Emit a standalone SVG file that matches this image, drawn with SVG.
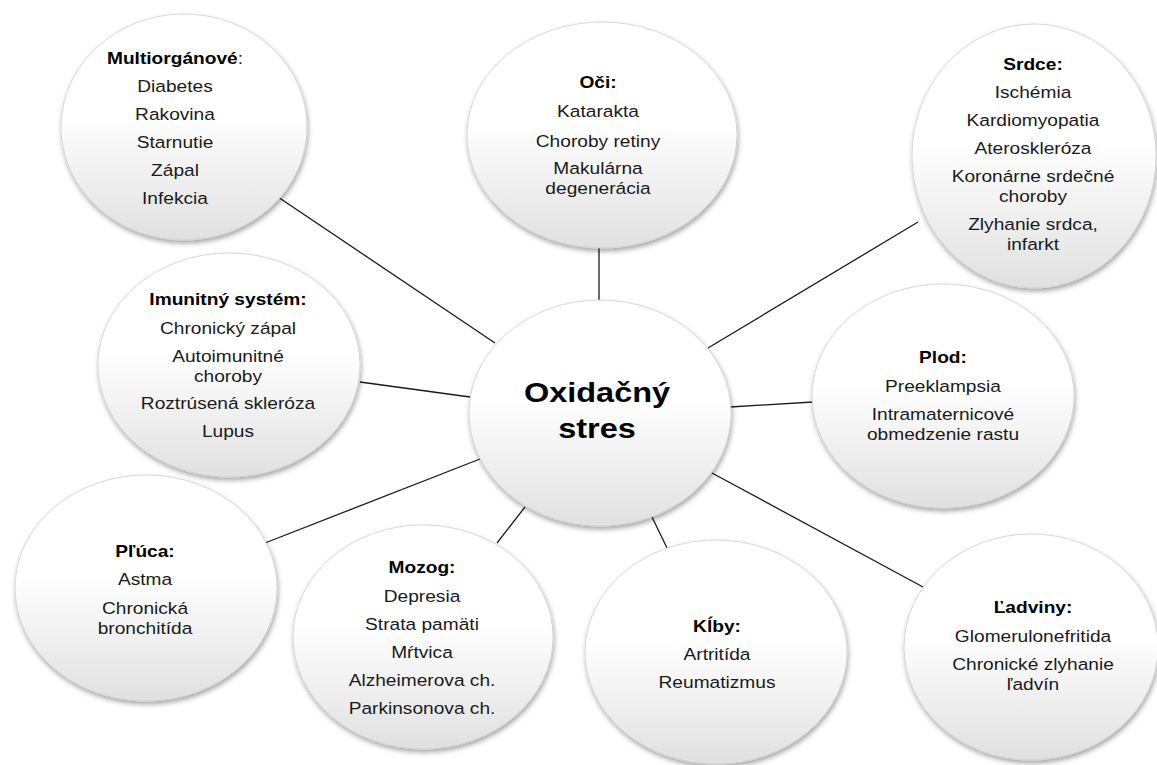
<svg xmlns="http://www.w3.org/2000/svg" width="1157" height="765" viewBox="0 0 1157 765">
<defs>
<linearGradient id="g" x1="0" y1="0" x2="0" y2="1">
<stop offset="0" stop-color="#ffffff"/>
<stop offset="0.45" stop-color="#ffffff"/>
<stop offset="1" stop-color="#e0e0e0"/>
</linearGradient>
<filter id="sh" x="-10%" y="-10%" width="120%" height="125%">
<feDropShadow dx="1" dy="3" stdDeviation="2.5" flood-color="#000" flood-opacity="0.35"/>
</filter>
</defs>
<style>
.n{fill:url(#g);stroke:#cfcfcf;stroke-width:0.8;filter:url(#sh)}
.c line{stroke:#1a1a1a;stroke-width:1.3}
text{font-family:"Liberation Sans",Arial,sans-serif;font-size:16.5px;fill:#1a1a1a;text-anchor:middle}
.t{font-weight:bold;fill:#000}
.big{font-weight:bold;font-size:28px;fill:#000}
</style>
<rect width="1157" height="765" fill="#fff"/>
<g class="c" id="connectors">
<line x1="278" y1="197" x2="495" y2="343"/>
<line x1="599" y1="248" x2="599" y2="300"/>
<line x1="918" y1="222" x2="708" y2="348"/>
<line x1="360" y1="382" x2="470" y2="397"/>
<line x1="730" y1="407" x2="813" y2="402"/>
<line x1="265" y1="543" x2="480" y2="459"/>
<line x1="497" y1="543" x2="525" y2="507"/>
<line x1="652" y1="517" x2="667" y2="548"/>
<line x1="712" y1="473" x2="923" y2="587"/>
</g>
<g id="multi">
<ellipse class="n" cx="184" cy="127" rx="123" ry="113"/>
<g transform="translate(175 0) scale(1.16 1)">
<text x="0" y="64"><tspan class="t">Multiorgánové</tspan>:</text>
<text x="0" y="92">Diabetes</text>
<text x="0" y="120">Rakovina</text>
<text x="0" y="148">Starnutie</text>
<text x="0" y="176">Zápal</text>
<text x="0" y="204">Infekcia</text>
</g>
</g>
<g id="oci">
<ellipse class="n" cx="602" cy="135" rx="135" ry="113"/>
<g transform="translate(598 0) scale(1.16 1)">
<text class="t" x="0" y="88">Oči:</text>
<text x="0" y="117">Katarakta</text>
<text x="0" y="147">Choroby retiny</text>
<text x="0" y="174">Makulárna</text>
<text x="0" y="194">degenerácia</text>
</g>
</g>
<g id="srdce">
<ellipse class="n" cx="1034" cy="156" rx="122" ry="132"/>
<g transform="translate(1033 0) scale(1.16 1)">
<text class="t" x="0" y="70">Srdce:</text>
<text x="0" y="98">Ischémia</text>
<text x="0" y="126">Kardiomyopatia</text>
<text x="0" y="154">Ateroskleróza</text>
<text x="0" y="182">Koronárne srdečné</text>
<text x="0" y="202">choroby</text>
<text x="0" y="230">Zlyhanie srdca,</text>
<text x="0" y="250">infarkt</text>
</g>
</g>
<g id="imunitny">
<ellipse class="n" cx="229" cy="365" rx="131" ry="112"/>
<g transform="translate(228 0) scale(1.16 1)">
<text class="t" x="0" y="305">Imunitný systém:</text>
<text x="0" y="334">Chronický zápal</text>
<text x="0" y="362">Autoimunitné</text>
<text x="0" y="382">choroby</text>
<text x="0" y="409">Roztrúsená skleróza</text>
<text x="0" y="437">Lupus</text>
</g>
</g>
<g id="center">
<ellipse class="n" cx="600" cy="413" rx="131" ry="113"/>
<g transform="translate(597 0) scale(1.16 1)">
<text class="big" x="0" y="402">Oxidačný</text>
<text class="big" x="0" y="438">stres</text>
</g>
</g>
<g id="plod">
<ellipse class="n" cx="943" cy="396" rx="131" ry="112"/>
<g transform="translate(943 0) scale(1.16 1)">
<text class="t" x="0" y="363">Plod:</text>
<text x="0" y="392">Preeklampsia</text>
<text x="0" y="420">Intramaternicové</text>
<text x="0" y="440">obmedzenie rastu</text>
</g>
</g>
<g id="pluca">
<ellipse class="n" cx="146" cy="588" rx="131" ry="113"/>
<g transform="translate(145 0) scale(1.16 1)">
<text class="t" x="0" y="557">Pľúca:</text>
<text x="0" y="585">Astma</text>
<text x="0" y="614">Chronická</text>
<text x="0" y="634">bronchitída</text>
</g>
</g>
<g id="mozog">
<ellipse class="n" cx="423" cy="637" rx="130" ry="112"/>
<g transform="translate(422 0) scale(1.16 1)">
<text class="t" x="0" y="573">Mozog:</text>
<text x="0" y="602">Depresia</text>
<text x="0" y="630">Strata pamäti</text>
<text x="0" y="658">Mŕtvica</text>
<text x="0" y="686">Alzheimerova ch.</text>
<text x="0" y="714">Parkinsonova ch.</text>
</g>
</g>
<g id="kiby">
<ellipse class="n" cx="716" cy="652" rx="131" ry="112"/>
<g transform="translate(717 0) scale(1.16 1)">
<text class="t" x="0" y="632">Kĺby:</text>
<text x="0" y="660">Artritída</text>
<text x="0" y="688">Reumatizmus</text>
</g>
</g>
<g id="ladviny">
<ellipse class="n" cx="1031" cy="647" rx="127" ry="113"/>
<g transform="translate(1033 0) scale(1.16 1)">
<text class="t" x="0" y="613">Ľadviny:</text>
<text x="0" y="642">Glomerulonefritida</text>
<text x="0" y="670">Chronické zlyhanie</text>
<text x="0" y="690">ľadvín</text>
</g>
</g>
</svg>
